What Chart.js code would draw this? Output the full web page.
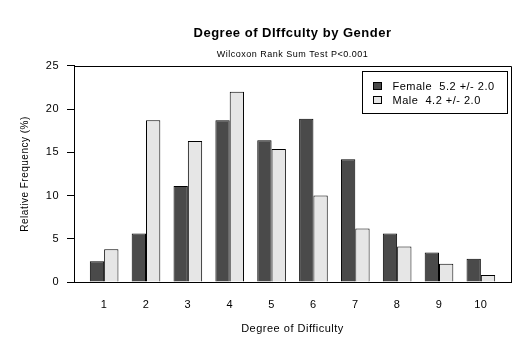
<!DOCTYPE html>
<html>
<head>
<meta charset="utf-8">
<script src="https://cdn.jsdelivr.net/npm/chart.js@4"></script>
<style>
  html, body { margin: 0; padding: 0; background: #fff; }
  #wrap { width: 519px; height: 349px; }
</style>
</head>
<body>
<div id="wrap"><canvas id="myChart"></canvas></div>
<script>
const degrees = [1, 2, 3, 4, 5, 6, 7, 8, 9, 10];
const femaleValues = [2.4, 5.6, 11.1, 18.7, 16.4, 18.9, 14.2, 5.6, 3.4, 2.7];
const maleValues = [3.8, 18.7, 16.3, 22.0, 15.4, 10.0, 6.2, 4.1, 2.1, 0.8];
const seriesLabels = ['Female  5.2 +/- 2.0', 'Male  4.2 +/- 2.0'];
const yTicks = [0, 5, 10, 15, 20, 25];

const FONT = "'Liberation Sans', Arial, sans-serif";

// slightly looser text everywhere
const spacing = {
    id: 'spacing',
    beforeUpdate(chart) { chart.ctx.letterSpacing = '0.5px'; },
    beforeDraw(chart) { chart.ctx.letterSpacing = '0.5px'; }
};

// box round the plot (top + right sides, the axes give the rest)
const frame = {
    id: 'frame',
    afterDraw(chart) {
        const a = chart.chartArea;
        const c = chart.ctx;
        c.save();
        c.strokeStyle = '#000';
        c.lineWidth = 1;
        c.beginPath();
        c.moveTo(a.left, Math.round(a.top) + 0.5);
        c.lineTo(Math.round(a.right) + 0.5, Math.round(a.top) + 0.5);
        c.lineTo(Math.round(a.right) + 0.5, a.bottom);
        c.stroke();
        c.restore();
    }
};

// legend drawn inside the plot, top right
const boxLegend = {
    id: 'boxLegend',
    afterDraw(chart) {
        const a = chart.chartArea;
        const c = chart.ctx;
        const w = 145, h = 42;
        const x = Math.round(a.right) - 4 - w + 0.5;
        const y = Math.round(a.top) + 5 + 0.5;
        c.save();
        c.fillStyle = '#fff';
        c.strokeStyle = '#000';
        c.lineWidth = 1;
        c.fillRect(x, y, w, h);
        c.strokeRect(x, y, w, h);
        c.font = '11px ' + FONT;
        c.textBaseline = 'middle';
        chart.data.datasets.forEach((ds, i) => {
            const cy = y + 15 + i * 14;
            c.fillStyle = ds.backgroundColor;
            c.fillRect(x + 11, cy - 4, 8, 7);
            c.strokeRect(x + 11, cy - 4, 8, 7);
            c.fillStyle = '#000';
            c.fillText(ds.label, x + 30, cy);
        });
        c.restore();
    }
};

new Chart(document.getElementById('myChart'), {
    type: 'bar',
    data: {
        datasets: [{
            label: seriesLabels[0],
            data: degrees.map((d, i) => ({ x: d, y: femaleValues[i] })),
            backgroundColor: '#4a4a4a',
            borderColor: '#000',
            borderWidth: 1
        }, {
            label: seriesLabels[1],
            data: degrees.map((d, i) => ({ x: d, y: maleValues[i] })),
            backgroundColor: '#e6e6e6',
            borderColor: '#000',
            borderWidth: 1
        }]
    },
    plugins: [spacing, frame, boxLegend],
    options: {
        responsive: true,
        maintainAspectRatio: false,
        animation: false,
        categoryPercentage: 0.684,
        barPercentage: 1,
        layout: { padding: { left: 0, right: 8, top: 0, bottom: 0 } },
        plugins: {
            legend: { display: false },
            tooltip: { enabled: false },
            title: {
                display: true,
                text: 'Degree of DIffculty by Gender',
                fullSize: false,
                color: '#000',
                font: { family: FONT, size: 13, weight: 'bold' },
                padding: { top: 26, bottom: 8 }
            },
            subtitle: {
                display: true,
                text: 'Wilcoxon Rank Sum Test P<0.001',
                fullSize: false,
                color: '#000',
                font: { family: FONT, size: 9 },
                padding: { top: 0, bottom: 5.5 }
            }
        },
        scales: {
            x: {
                type: 'linear',
                offset: false,
                min: 0.28,
                max: 10.72,
                afterFit(scale) { scale.height = 67; },
                grid: { display: false, drawTicks: false },
                border: { display: true, color: '#000', width: 1 },
                ticks: {
                    stepSize: 1,
                    includeBounds: false,
                    padding: 16,
                    color: '#000',
                    font: { family: FONT, size: 11 },
                    callback: v => degrees.includes(v) ? String(v) : ''
                },
                title: {
                    display: true,
                    text: 'Degree of Difficulty',
                    color: '#000',
                    font: { family: FONT, size: 11 },
                    padding: { top: 0, bottom: 13 }
                }
            },
            y: {
                min: 0,
                max: 25,
                afterFit(scale) { scale.width = 74; },
                afterBuildTicks(scale) { scale.ticks = yTicks.map(v => ({ value: v })); },
                grid: { drawOnChartArea: false, drawTicks: true, tickLength: 7, color: '#000' },
                border: { display: true, color: '#000', width: 1 },
                ticks: {
                    padding: 8,
                    color: '#000',
                    font: { family: FONT, size: 11 }
                },
                title: {
                    display: true,
                    text: 'Relative Frequency (%)',
                    color: '#000',
                    font: { family: FONT, size: 10 },
                    padding: { top: 19, bottom: 0 }
                }
            }
        }
    }
});
</script>
</body>
</html>
